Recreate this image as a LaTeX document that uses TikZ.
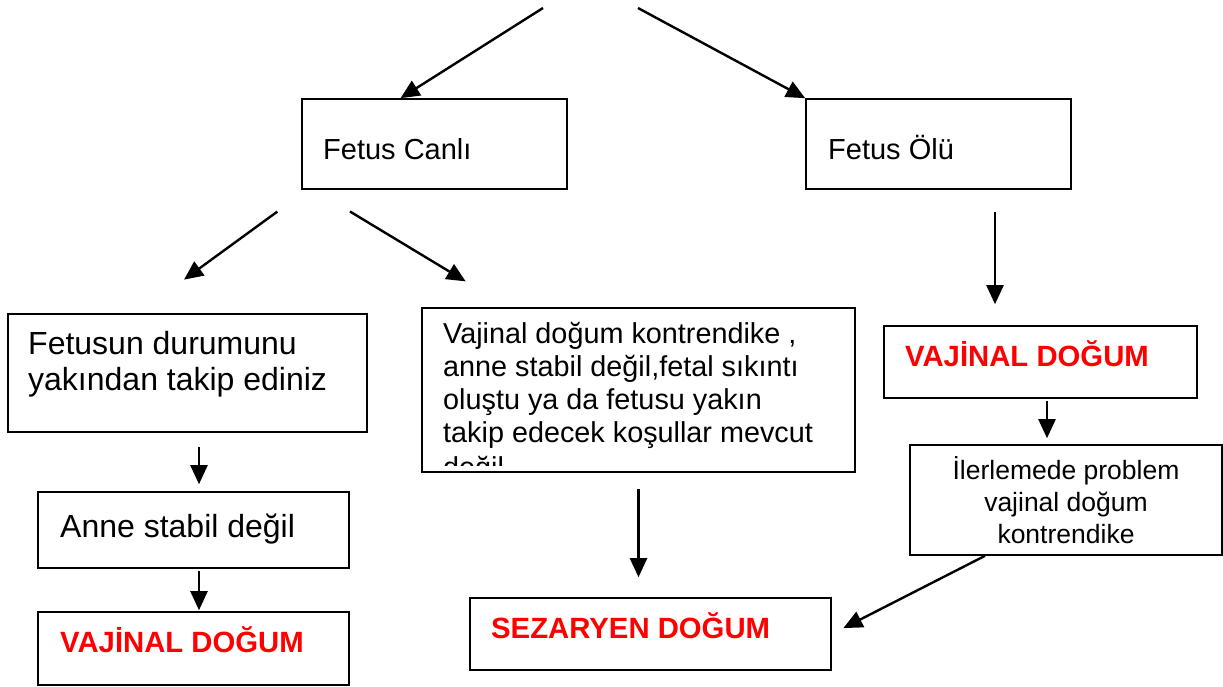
\documentclass[tikz,border=0pt]{standalone}
\usepackage{fontspec}
\setmainfont{Liberation Sans}
\usetikzlibrary{arrows.meta}

\begin{document}
\begin{tikzpicture}[x=1pt,y=-1pt,
  kutu/.style={draw,line width=1.6pt,inner sep=0pt},
  yazi/.style={anchor=base west,inner sep=0pt,font=\fontsize{29}{35}\selectfont},
  buyuk/.style={anchor=base west,inner sep=0pt,align=left,font=\fontsize{32}{36}\selectfont},
  kirmizi/.style={anchor=base west,inner sep=0pt,text=red,font=\fontsize{29.3}{35}\selectfont\bfseries},
  ok/.style={line width=2.4pt,-{Triangle[length=19pt,width=17pt]}}]
\useasboundingbox (0,0) rectangle (1223,686);

\node[kutu,minimum width=265pt,minimum height=90pt] (canli) at (434.5,144) {};
\node[yazi] (canlitxt) at (323,159) {Fetus Canlı};
\node[kutu,minimum width=265pt,minimum height=90pt] (olu) at (938.5,144) {};
\node[yazi] (olutxt) at (828,159) {Fetus Ölü};

\node[kutu,minimum width=359pt,minimum height=118pt] (takip) at (187.5,373) {};
\node[buyuk] (takiptxt) at (28,390) {Fetusun durumunu\\yakından takip ediniz};
\node[kutu,minimum width=311pt,minimum height=76pt] (anne) at (193.5,530) {};
\node[buyuk] (annetxt) at (60,537) {Anne stabil değil};
\node[kutu,minimum width=311pt,minimum height=73pt] (vajL) at (193.5,648.5) {};
\node[kirmizi] (vajLtxt) at (60,652) {VAJİNAL DOĞUM};

\node[kutu,minimum width=433pt,minimum height=164pt] (kontr) at (638.5,390) {};
\node[anchor=base west,inner sep=0pt,align=left,font=\fontsize{28.8}{33}\selectfont] (kontrtxt) at (443,442)
  {Vajinal doğum kontrendike ,\\anne stabil değil,fetal sıkıntı\\oluştu ya da fetusu yakın\\takip edecek koşullar mevcut};
\begin{scope}
\clip (423,309) rectangle (854,465);
\node[anchor=base west,inner sep=0pt,font=\fontsize{28.8}{33}\selectfont] (kontrson) at (443,477) {değil};
\end{scope}
\node[kutu,minimum width=361pt,minimum height=72pt] (sez) at (650.5,634) {};
\node[kirmizi] (seztxt) at (491,638) {SEZARYEN DOĞUM};

\node[kutu,minimum width=313pt,minimum height=72pt] (vajR) at (1040.5,362) {};
\node[kirmizi] (vajRtxt) at (905,366) {VAJİNAL DOĞUM};
\node[kutu,minimum width=312pt,minimum height=110pt] (iler) at (1066,500) {};
\node[anchor=base,inner sep=0pt,align=center,font=\fontsize{26.5}{32}\selectfont] (ilertxt) at (1066,543)
  {İlerlemede problem\\vajinal doğum\\kontrendike};

\coordinate (bas1) at (543,8);
\coordinate (bas2) at (638,8);
\draw[ok] (bas1) -- ([xshift=-34pt]canli.north);
\draw[ok] (bas2) -- (olu.north west);
\draw[ok,shorten <=37pt,shorten >=57pt] ([xshift=6pt]canli.south west) -- ([xshift=-49.5pt]takip.north);
\draw[ok,shorten <=42pt,shorten >=50pt] ([xshift=-120.5pt]canli.south) -- ([xshift=-130pt]kontr.north);
\draw[ok,shorten <=22pt,shorten >=21pt] ([xshift=56.5pt]olu.south) -- ([xshift=-45.5pt]vajR.north);
\draw[ok,shorten <=14pt,shorten >=7pt] ([xshift=11.5pt]takip.south) -- ([xshift=5.5pt]anne.north);
\draw[ok,shorten <=2pt,shorten >=1pt] ([xshift=5.5pt]anne.south) -- ([xshift=5.5pt]vajL.north);
\draw[ok,shorten <=2pt,shorten >=6pt] ([xshift=6.5pt]vajR.south) -- ([xshift=-19pt]iler.north);
\draw[ok,shorten <=16pt,shorten >=20pt] (kontr.south) -- ([xshift=-12pt]sez.north);
\draw[ok,shorten >=13pt] ([xshift=-81pt]iler.south) -- (sez.east);
\end{tikzpicture}
\end{document}
